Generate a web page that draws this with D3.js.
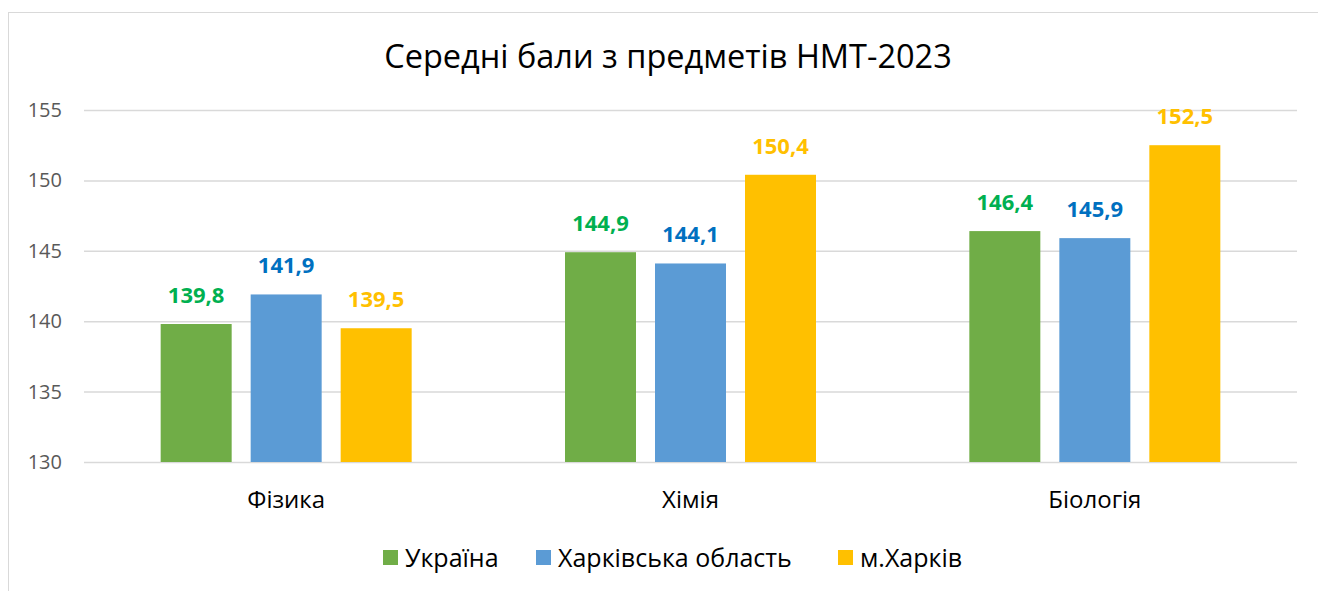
<!DOCTYPE html>
<html><head><meta charset="utf-8">
<script src="https://cdn.jsdelivr.net/npm/d3@7"></script>
<style>body{margin:0;background:#fff;}svg{display:block;font-family:"Open Sans",sans-serif;}</style>
</head><body>
<svg id="c" width="1318" height="591"></svg>
<script>
const categories = ["Фізика", "Хімія", "Біологія"];
const seriesNames = ["Україна", "Харківська область", "м.Харків"];
const ukraine = [139.8, 144.9, 146.4];
const kharkivOblast = [141.9, 144.1, 145.9];
const kharkivCity = [139.5, 150.4, 152.5];
const yTicks = [130, 135, 140, 145, 150, 155];
const title = "Середні бали з предметів НМТ-2023";

const barColors = ["#70AD47", "#5B9BD5", "#FFC000"];
const labelColors = ["#00B050", "#0070C0", "#FFC000"];
const seriesVals = [ukraine, kharkivOblast, kharkivCity];

const svg = d3.select("#c");
svg.append("rect").attr("x", 8.5).attr("y", 12.5).attr("width", 1330).attr("height", 600)
  .attr("fill", "none").attr("stroke", "#d9d9d9").attr("stroke-width", 1);

const L = 84, R = 1297, T = 110, B = 462;
const x = d3.scaleBand().domain(categories).range([L, R]).paddingInner(0).paddingOuter(0);
const y = d3.scaleLinear().domain([130, 155]).range([B, T]);

svg.append("g").selectAll("line").data(yTicks).join("line")
  .attr("x1", L).attr("x2", R).attr("y1", d => y(d) + 0.5).attr("y2", d => y(d) + 0.5)
  .attr("stroke", "#d9d9d9").attr("stroke-width", 1.5);

svg.append("g").selectAll("text").data(yTicks).join("text")
  .attr("x", 62).attr("y", d => y(d)).attr("dy", "0.35em").attr("text-anchor", "end")
  .attr("font-size", 20).attr("fill", "#595959").text(d => d);

const barW = 71, gap = 19;
const groupW = 3 * barW + 2 * gap;
const xs = d3.scaleBand().domain(d3.range(3)).range([0, groupW]).paddingInner(gap / (barW + gap)).paddingOuter(0);

categories.forEach((c, ci) => {
  const gx = x(c) + (x.bandwidth() - groupW) / 2;
  seriesVals.forEach((vals, si) => {
    const v = vals[ci];
    const bx = gx + xs(si);
    svg.append("rect").attr("x", bx).attr("y", y(v)).attr("width", xs.bandwidth())
      .attr("height", y(130) - y(v)).attr("fill", barColors[si]);
    svg.append("text").attr("x", bx + xs.bandwidth() / 2).attr("y", y(v) - 21)
      .attr("text-anchor", "middle").attr("font-size", 22).attr("font-weight", "bold")
      .attr("fill", labelColors[si]).text(d3.format(".1f")(v).replace(".", ","));
  });
});

svg.append("g").selectAll("text").data(categories).join("text")
  .attr("x", d => x(d) + x.bandwidth() / 2).attr("y", 508).attr("text-anchor", "middle")
  .attr("font-size", 24).attr("fill", "#000").text(d => d);

svg.append("text").attr("x", 668).attr("y", 68).attr("text-anchor", "middle")
  .attr("font-size", 32.5).attr("fill", "#000").text(title);

const legX = [383, 536, 838];
seriesNames.forEach((n, i) => {
  svg.append("rect").attr("x", legX[i]).attr("y", 550).attr("width", 15).attr("height", 15).attr("fill", barColors[i]);
  svg.append("text").attr("x", legX[i] + 22).attr("y", 567)
    .attr("font-size", 25).attr("fill", "#000").text(n);
});
</script>
</body></html>
